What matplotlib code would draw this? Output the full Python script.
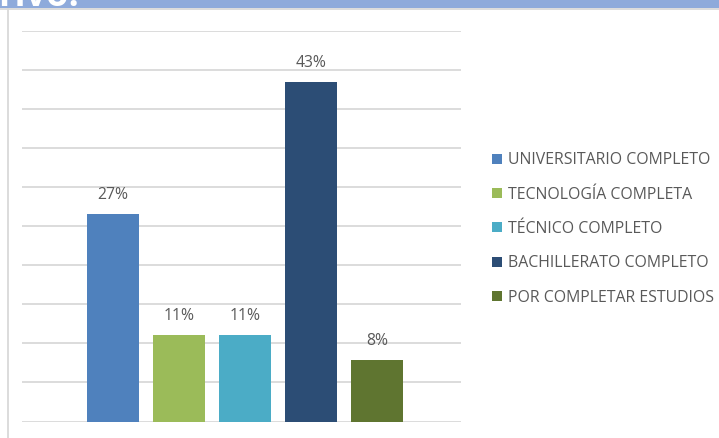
import matplotlib
matplotlib.use("Agg")
import matplotlib.pyplot as plt
from matplotlib.patches import Rectangle
from matplotlib.lines import Line2D

categories = ["UNIVERSITARIO COMPLETO", "TECNOLOGÍA COMPLETA", "TÉCNICO COMPLETO",
              "BACHILLERATO COMPLETO", "POR COMPLETAR ESTUDIOS"]
values = [26.6, 11.1, 11.1, 43.5, 7.9]
labels = ["27%", "11%", "11%", "43%", "8%"]
colors = ["#4F81BD", "#9BBB59", "#4BACC6", "#2C4D75", "#5F7530"]
yticks = list(range(0, 55, 5))

W, H = 719, 438
fig = plt.figure(figsize=(W / 100, H / 100), dpi=100)
plt.rcParams['font.family'] = ['Open Sans', 'DejaVu Sans']

# header band and frame lines
fig.patches.append(Rectangle((0, 1 - 8.3 / H), 1, 8.3 / H, transform=fig.transFigure,
                             facecolor="#8EAADB", edgecolor="none", zorder=0))
fig.lines.append(Line2D([0, 1], [1 - 9.2 / H] * 2, transform=fig.transFigure,
                        color="#D9D9D9", lw=1.3))
fig.lines.append(Line2D([7.5 / W] * 2, [0, 1 - 9.2 / H], transform=fig.transFigure,
                        color="#D9D9D9", lw=1.3))
fig.text(-0.002, 1 - 5.5 / H, "rivo:", color="white", fontsize=26, fontweight="bold",
         va="baseline", ha="left")

left, right = 22 / W, 461 / W
bottom, top = 1 - 421.5 / H, 1 - 31 / H
ax = fig.add_axes([left, bottom, right - left, top - bottom])

x = list(range(len(values)))
bars = ax.bar(x, values, width=0.79, color=colors, zorder=3)
for xi, v, lab in zip(x, values, labels):
    ax.annotate(lab, (xi, v), xytext=(0, 8), textcoords="offset points",
                ha="center", va="bottom", fontsize=11.3, color="#595959", zorder=4)

ax.set_xlim(-1.38, 5.27)
ax.set_ylim(0, 50)
ax.set_yticks(yticks)
ax.yaxis.grid(True, color="#D9D9D9", lw=1.3, zorder=0)
ax.set_axisbelow(True)
ax.tick_params(left=False, bottom=False, labelleft=False, labelbottom=False)
for s in ax.spines.values():
    s.set_visible(False)

leg = fig.legend(bars, categories, loc="center left",
                 bbox_to_anchor=(492 / W, 1 - 229 / H), frameon=False,
                 fontsize=11.4, labelcolor="#595959", handlelength=0.6,
                 handleheight=0.6, handletextpad=0.4, labelspacing=1.16,
                 borderaxespad=0, borderpad=0)

fig.savefig("out.png", dpi=100)
